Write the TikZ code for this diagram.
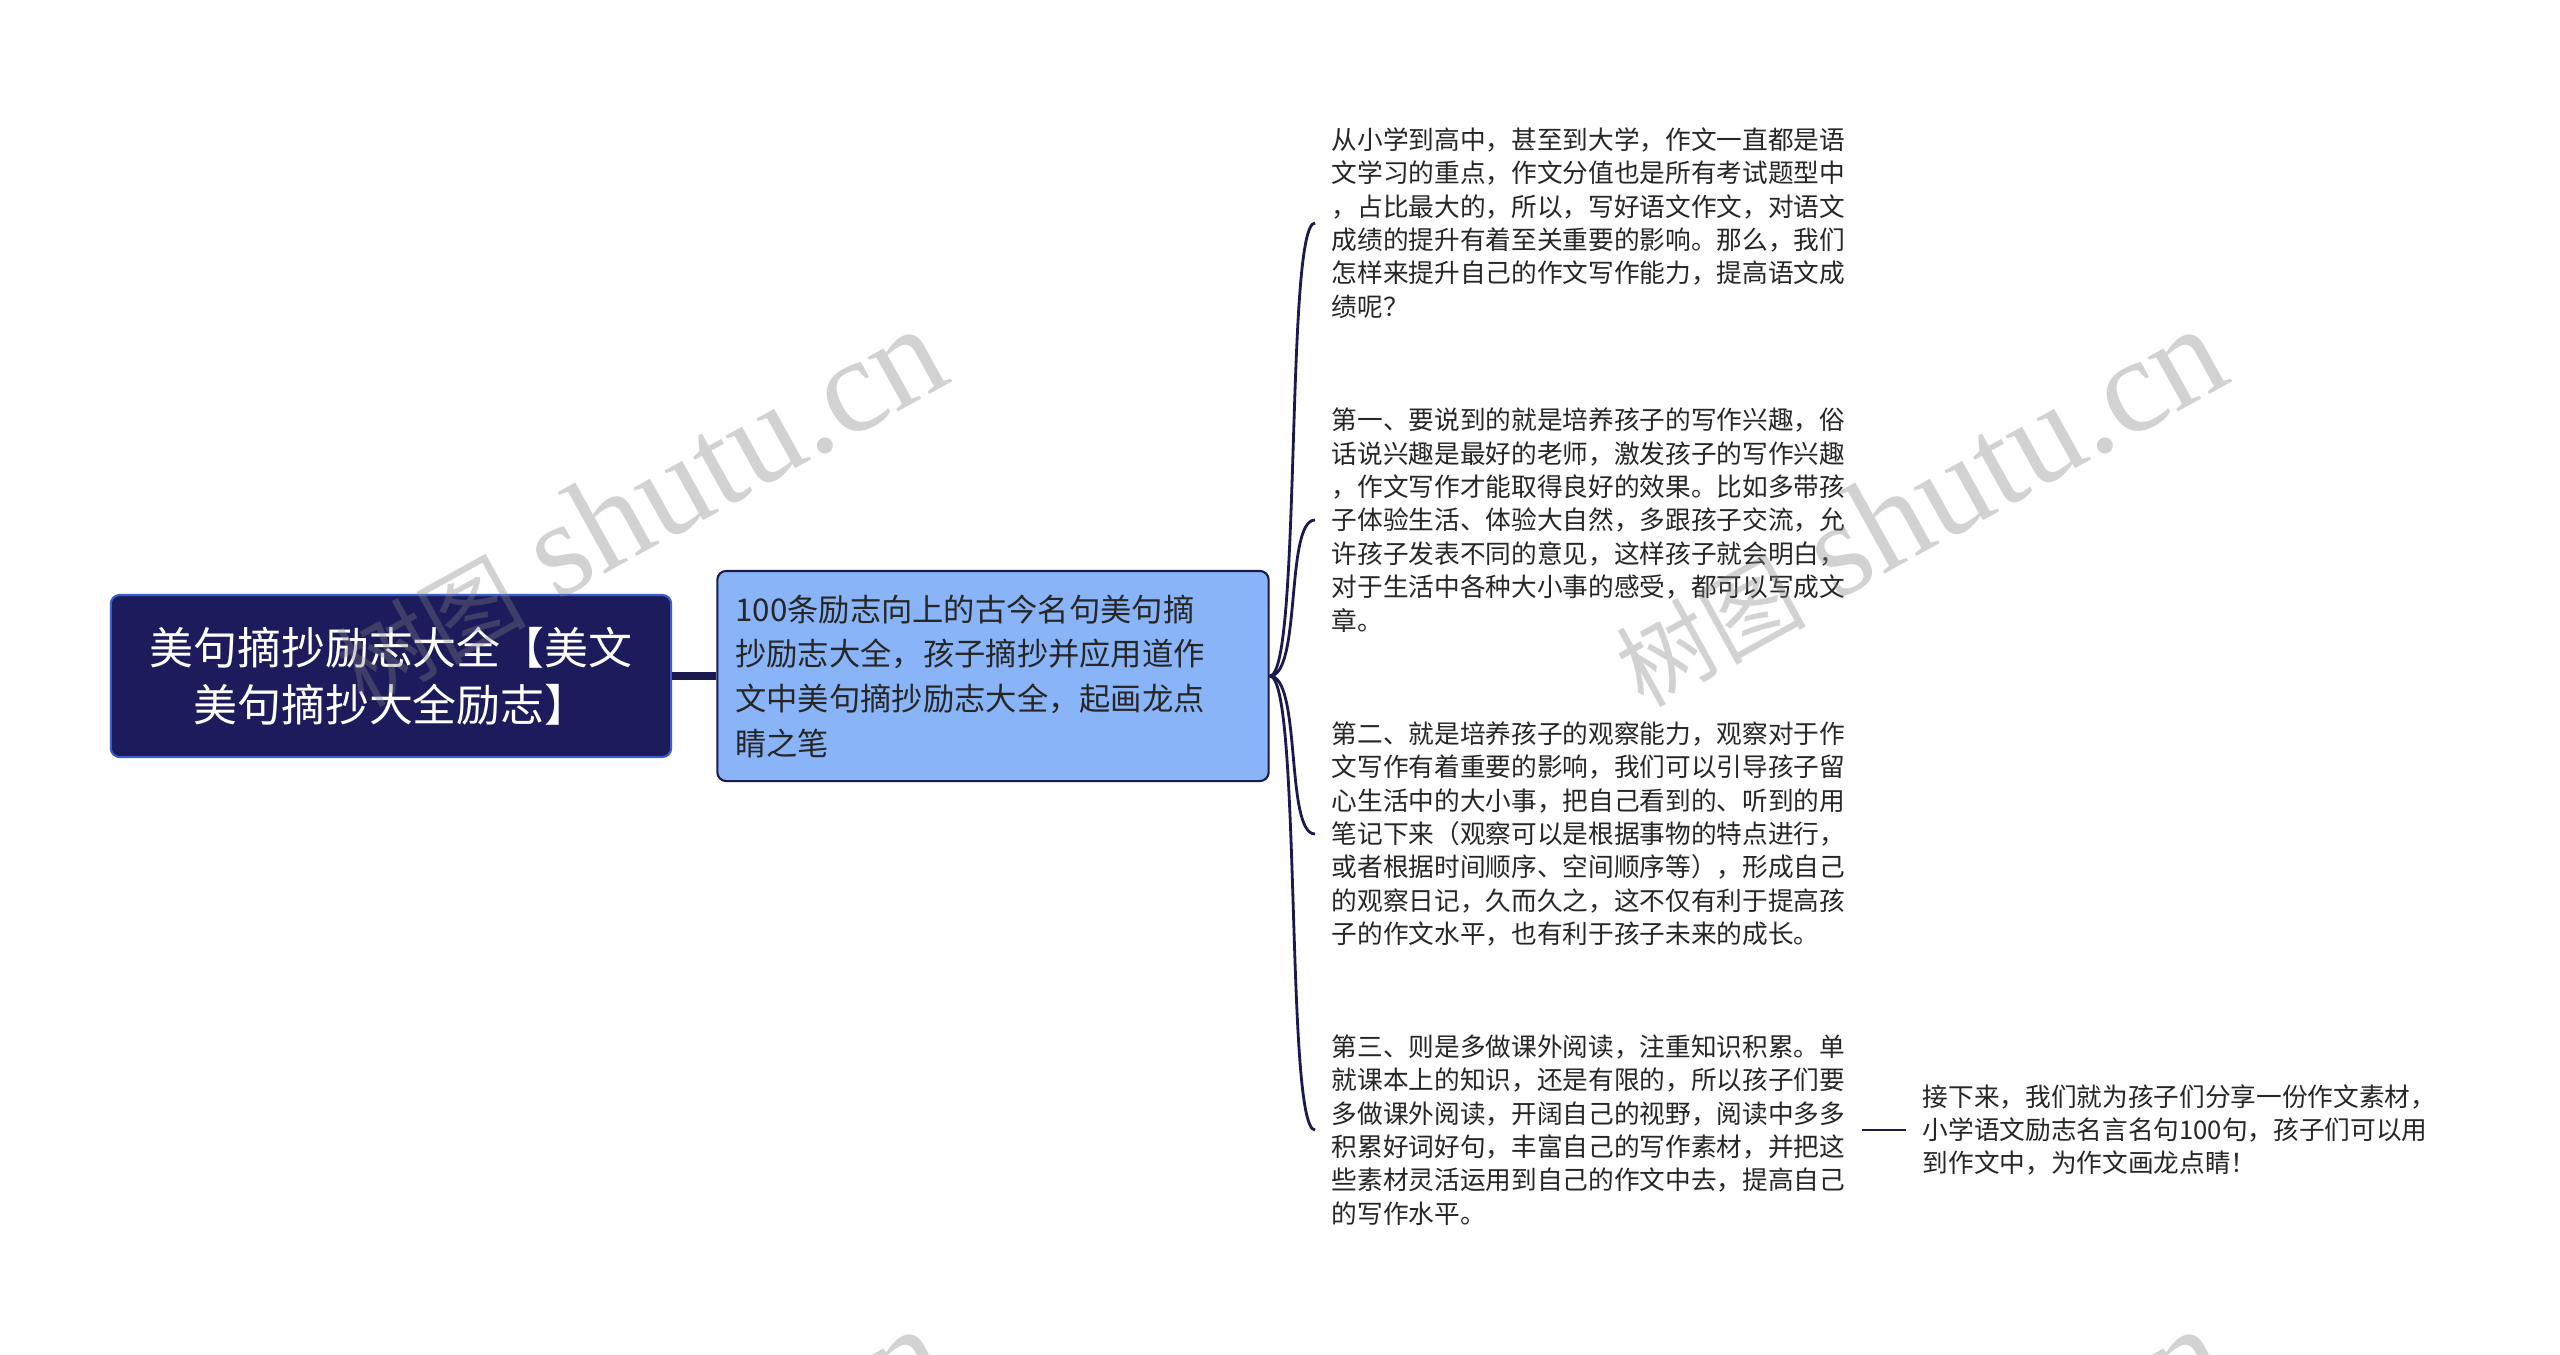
\documentclass[tikz,border=0pt]{standalone}
\usepackage{fontspec}
\newfontfamily\cjk{Noto Sans CJK SC}
\newfontfamily\wmfont{Liberation Serif}
\definecolor{rootnavy}{HTML}{1C1C5C}
\definecolor{rootedge}{HTML}{3A5FCD}
\definecolor{mainblue}{HTML}{8AB4F8}
\definecolor{linknavy}{HTML}{1A1A4E}
\tikzset{
  rootbox/.style={draw=rootedge, line width=0.6pt, fill=rootnavy, rounded corners=2.5pt,
    minimum width=5.6cm, minimum height=1.62cm, align=center, text=white,
    font=\cjk\fontsize{12.5}{16.2}\selectfont},
  mainbox/.style={draw=linknavy, line width=0.6pt, fill=mainblue, rounded corners=2.5pt,
    text width=5.15cm, inner xsep=0.18cm, minimum height=2.1cm, align=left, text=black!85,
    font=\cjk\fontsize{8.9}{12.7}\selectfont},
  leaf/.style={anchor=west, inner xsep=0.16cm, inner ysep=0pt, align=left, text=black!85,
    font=\cjk\fontsize{7.3}{9.5}\selectfont},
  trunk/.style={draw=linknavy, line width=2pt},
  branch/.style={draw=linknavy, line width=0.8pt},
  wmark/.style={text=gray, text opacity=0.35, rotate=29}
}
\newcommand{\wm}{{\cjk\fontsize{27}{27}\selectfont 树图}\hspace{9pt}{\wmfont\fontsize{38.5}{38.5}\selectfont shutu.cn}}

\begin{document}
\begin{tikzpicture}[x=0.01cm,y=-0.01cm]
\useasboundingbox (0,0) rectangle (2560,1354);
\fill[white] (0,0) rectangle (2560,1354);
\node[rootbox] (root) at (391,676) {美句摘抄励志大全【美文\\美句摘抄大全励志】};
\node[mainbox] (main) at (993,676) {100条励志向上的古今名句美句摘\\抄励志大全，孩子摘抄并应用道作\\文中美句摘抄励志大全，起画龙点\\睛之笔};
\draw[trunk] (root.east) -- (main.west);
\node[leaf] (intro) at (1315,223) {从小学到高中，甚至到大学，作文一直都是语\\文学习的重点，作文分值也是所有考试题型中\\，占比最大的，所以，写好语文作文，对语文\\成绩的提升有着至关重要的影响。那么，我们\\怎样来提升自己的作文写作能力，提高语文成\\绩呢？};
\node[leaf] (first) at (1315,520) {第一、要说到的就是培养孩子的写作兴趣，俗\\话说兴趣是最好的老师，激发孩子的写作兴趣\\，作文写作才能取得良好的效果。比如多带孩\\子体验生活、体验大自然，多跟孩子交流，允\\许孩子发表不同的意见，这样孩子就会明白，\\对于生活中各种大小事的感受，都可以写成文\\章。};
\node[leaf] (second) at (1315,834) {第二、就是培养孩子的观察能力，观察对于作\\文写作有着重要的影响，我们可以引导孩子留\\心生活中的大小事，把自己看到的、听到的用\\笔记下来（观察可以是根据事物的特点进行，\\或者根据时间顺序、空间顺序等），形成自己\\的观察日记，久而久之，这不仅有利于提高孩\\子的作文水平，也有利于孩子未来的成长。};
\node[leaf] (third) at (1315,1130) {第三、则是多做课外阅读，注重知识积累。单\\就课本上的知识，还是有限的，所以孩子们要\\多做课外阅读，开阔自己的视野，阅读中多多\\积累好词好句，丰富自己的写作素材，并把这\\些素材灵活运用到自己的作文中去，提高自己\\的写作水平。};
\node[leaf] (share) at (1906,1130) {接下来，我们就为孩子们分享一份作文素材，\\小学语文励志名言名句100句，孩子们可以用\\到作文中，为作文画龙点睛！};
\foreach \leafname in {intro,first,second,third}
  \draw[branch] (main.east) .. controls +(32,0) and +(-30,0) .. (\leafname.west);
\draw[branch] (third.east) -- (share.west);
\begin{scope}
\clip (0,0) rectangle (2560,1354);
\foreach \wx/\wy in {638/507,1918/507,638/1507,1918/1507}
  \node[wmark] at (\wx,\wy) {\wm};
\end{scope}
\end{tikzpicture}
\end{document}
